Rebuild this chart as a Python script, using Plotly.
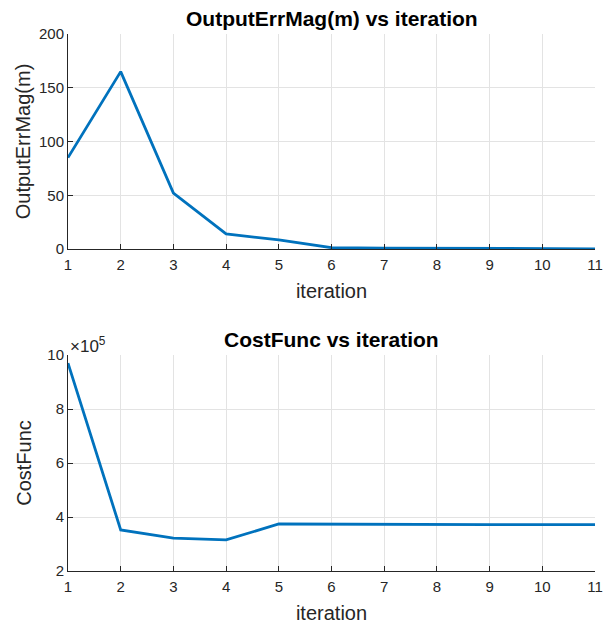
import plotly.graph_objects as go
from plotly.subplots import make_subplots

iterations = [1, 2, 3, 4, 5, 6, 7, 8, 9, 10, 11]
output_err_mag = [85, 165, 52, 14, 8.5, 1.2, 0.9, 0.6, 0.4, 0.3, 0.2]
cost_func = [9.7e5, 3.52e5, 3.22e5, 3.15e5, 3.74e5, 3.73e5, 3.725e5, 3.72e5, 3.72e5, 3.72e5, 3.72e5]
top_yticks = [0, 50, 100, 150, 200]
bot_yticks = [2e5, 4e5, 6e5, 8e5, 10e5]
bot_yticklabels = ["2", "4", "6", "8", "10"]

LINE = "#0072BD"
AX = "#262626"
GRID = "#e3e3e3"
FONT = "Liberation Sans, Arial, sans-serif"

fig = make_subplots(rows=2, cols=1)
fig.add_trace(go.Scatter(x=iterations, y=output_err_mag, mode="lines",
                         line=dict(color=LINE, width=2.8), showlegend=False), row=1, col=1)
fig.add_trace(go.Scatter(x=iterations, y=cost_func, mode="lines",
                         line=dict(color=LINE, width=2.8), showlegend=False), row=2, col=1)

axis_common = dict(showline=True, linecolor=AX, linewidth=1, ticks="inside", ticklen=5,
                   tickcolor=AX, tickfont=dict(family=FONT, size=15, color=AX),
                   showgrid=True, gridcolor=GRID, gridwidth=1, zeroline=False, mirror=False,
                   automargin=False)

fig.update_xaxes(**axis_common, range=[1, 11], tickvals=iterations, ticklabelstandoff=2,
                 title=dict(text="iteration", font=dict(family=FONT, size=20, color=AX), standoff=11))
fig.update_yaxes(**axis_common)
fig.update_yaxes(range=[0, 200], tickvals=top_yticks, row=1, col=1,
                 title=dict(text="OutputErrMag(m)", font=dict(family=FONT, size=20, color=AX), standoff=2))
fig.update_yaxes(range=[2e5, 10e5], tickvals=bot_yticks, ticktext=bot_yticklabels, row=2, col=1,
                 title=dict(text="CostFunc", font=dict(family=FONT, size=20, color=AX), standoff=10))

H = 624
fig.update_layout(
    width=603, height=624,
    margin=dict(l=68, r=8, t=0, b=0),
    plot_bgcolor="white", paper_bgcolor="white",
    xaxis=dict(domain=[0, 1]),
    xaxis2=dict(domain=[0, 1]),
    yaxis=dict(domain=[(H - 249) / H, (H - 34) / H]),
    yaxis2=dict(domain=[(H - 571) / H, (H - 355) / H]),
    annotations=[
        dict(text="<b>OutputErrMag(m) vs iteration</b>", x=0.5, xref="paper",
             y=(H - 18) / H, yref="paper", showarrow=False, xanchor="center", yanchor="middle",
             font=dict(family=FONT, size=21, color="black")),
        dict(text="<b>CostFunc vs iteration</b>", x=0.5, xref="paper",
             y=(H - 339) / H, yref="paper", showarrow=False, xanchor="center", yanchor="middle",
             font=dict(family=FONT, size=21, color="black")),
        dict(text="×10<sup>5</sup>", x=0, xref="paper", y=(H - 345) / H, yref="paper",
             showarrow=False, xanchor="left", yanchor="middle",
             font=dict(family=FONT, size=17, color=AX)),
    ],
)

fig.write_html("out.html")
